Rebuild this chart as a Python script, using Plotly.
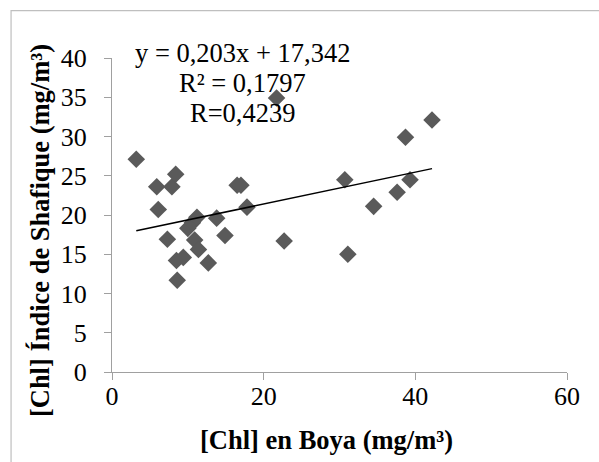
import plotly.graph_objects as go

# Data
chl_boya = [3.2, 5.9, 6.1, 7.3, 7.9, 8.4, 8.5, 8.6, 9.4, 10.0, 10.6, 10.9, 11.2,
            11.4, 12.7, 13.8, 14.9, 16.5, 17.0, 17.8, 21.7, 22.7, 30.7, 31.1,
            34.5, 37.6, 38.7, 39.3, 42.2]
chl_shafique = [27.1, 23.6, 20.7, 16.9, 23.6, 25.2, 14.2, 11.7, 14.6, 18.3, 19.0,
                16.8, 19.7, 15.6, 13.9, 19.6, 17.4, 23.8, 23.8, 21.0, 34.9, 16.7,
                24.5, 15.0, 21.1, 22.9, 29.9, 24.5, 32.1]
slope = 0.203
intercept = 17.342
eq_lines = ["y = 0,203x + 17,342", "R² = 0,1797", "R=0,4239"]
x_ticks = [0, 20, 40, 60]
y_ticks = [0, 5, 10, 15, 20, 25, 30, 35, 40]

FONT = "Liberation Serif, Times New Roman, serif"
AX = "#a0a0a0"

W, H = 599, 462
L, R, T, B = 112, 31.7, 58.3, 90.3
pw, ph = W - L - R, H - T - B

def px(xp):
    return (xp - L) / pw

def py(yp):
    return (H - B - yp) / ph

fig = go.Figure()
fig.add_trace(go.Scatter(
    x=chl_boya, y=chl_shafique, mode="markers",
    marker=dict(symbol="diamond", size=13.5, color="#5a5a5a", line=dict(width=0)),
    showlegend=False, cliponaxis=False))

x0, x1 = min(chl_boya), max(chl_boya)
fig.add_trace(go.Scatter(
    x=[x0, x1], y=[slope * x0 + intercept, slope * x1 + intercept],
    mode="lines", line=dict(color="black", width=1.5), showlegend=False))

fig.update_xaxes(range=[0, 60], tickvals=x_ticks, showline=True, linecolor=AX,
                 linewidth=1.3, ticks="outside", ticklen=7, tickcolor=AX, tickwidth=1.3,
                 showgrid=False, zeroline=False, ticklabelstandoff=-6,
                 tickfont=dict(family=FONT, size=26, color="black"))
fig.update_yaxes(range=[0, 40], tickvals=y_ticks, showline=True, linecolor=AX,
                 linewidth=1.3, ticks="outside", ticklen=7, tickcolor=AX, tickwidth=1.3,
                 showgrid=False, zeroline=False, ticklabelstandoff=12,
                 tickfont=dict(family=FONT, size=26, color="black"))

annotations = [
    dict(x=px(327), y=py(440), xref="paper", yref="paper", showarrow=False,
         text="<b>[Chl] en Boya (mg/m³)</b>", font=dict(family=FONT, size=26.5, color="black"),
         xanchor="center", yanchor="middle"),
    dict(x=px(40), y=py(231), xref="paper", yref="paper", showarrow=False,
         text="<b>[Chl] Índice de Shafique (mg/m³)</b>", textangle=-90,
         font=dict(family=FONT, size=26.5, color="black"),
         xanchor="center", yanchor="middle"),
]
for line, yp in zip(eq_lines, [53, 83, 113]):
    annotations.append(dict(x=px(243), y=py(yp), xref="paper", yref="paper",
                            showarrow=False, text=line,
                            font=dict(family=FONT, size=26.5, color="black"),
                            xanchor="center", yanchor="middle"))

fig.update_layout(
    width=W, height=H, margin=dict(l=L, r=R, t=T, b=B, pad=0),
    paper_bgcolor="white", plot_bgcolor="white",
    annotations=annotations,
    shapes=[dict(type="rect", xref="paper", yref="paper",
                 x0=px(11), x1=px(640), y0=py(11), y1=py(500),
                 line=dict(color="#bfbfbf", width=1.2), fillcolor="rgba(0,0,0,0)",
                 layer="below")],
)

fig.write_html("out.html", config={"displayModeBar": False},
               post_script="document.body.style.margin='0';document.body.style.overflow='hidden';")
